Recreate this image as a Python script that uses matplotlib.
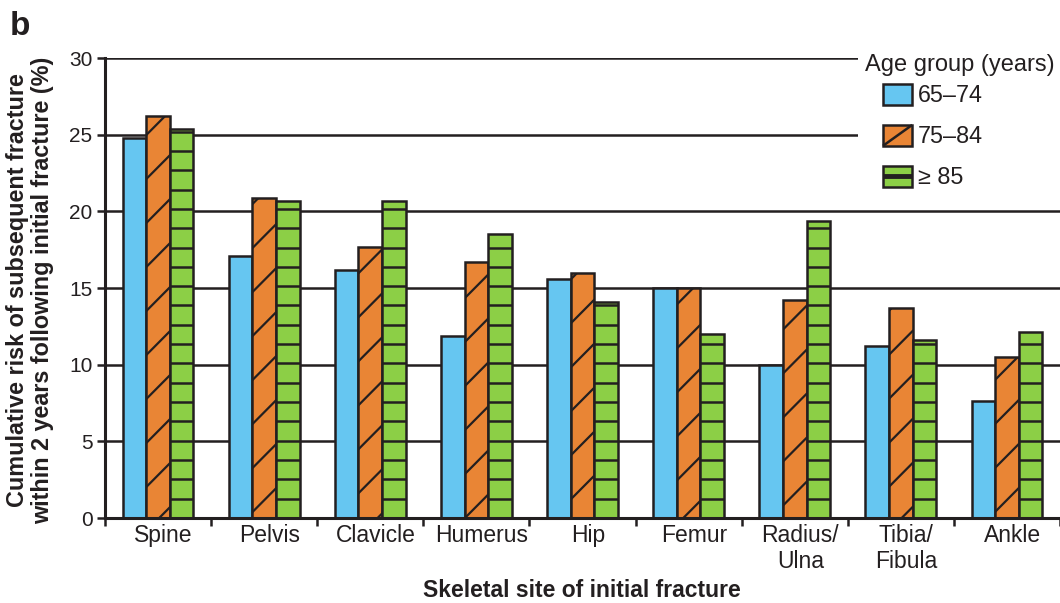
import matplotlib
matplotlib.use('Agg')

import matplotlib.pyplot as plt
from matplotlib.patches import Patch, Rectangle
from matplotlib.lines import Line2D
from matplotlib.legend_handler import HandlerBase
from matplotlib.transforms import ScaledTranslation
import numpy as np

# cumulative risk (%) of a subsequent fracture within 2 years, by site and age group
sites = ["Spine", "Pelvis", "Clavicle", "Humerus", "Hip", "Femur",
         "Radius/\nUlna", "Tibia/\nFibula", "Ankle"]
age_groups = ["65\u201374", "75\u201384", "\u2265 85"]
risk_65_74 = [24.8, 17.1, 16.2, 11.9, 15.6, 15.0, 10.0, 11.2, 7.6]
risk_75_84 = [26.2, 20.9, 17.7, 16.7, 16.0, 15.0, 14.2, 13.7, 10.5]
risk_85_up = [25.4, 20.7, 20.7, 18.5, 14.1, 12.0, 19.4, 11.6, 12.1]
y_ticks = [0, 5, 10, 15, 20, 25, 30]

c_blue = "#66c6f1"
c_orange = "#e98535"
c_green = "#8ccf46"
c_ink = "#231f20"

plt.rcParams['font.family'] = ['Liberation Sans', 'DejaVu Sans']

W, H = 1060, 603
fig = plt.figure(figsize=(W / 100, H / 100), dpi=100)
ax = fig.add_axes([105 / W, 1 - 518 / H, (W - 105) / W, (518 - 58) / H])

group_w = 106.9
ax.set_xlim(0, (W - 105) / group_w)
ax.set_ylim(0, 30)

x = np.arange(len(sites)) + 0.5
bw = 0.222
edge_lw = 1.8

for yv in y_ticks[1:]:
    ax.axhline(yv, color=c_ink, lw=1.8, zorder=1)

b1 = ax.bar(x - bw, risk_65_74, bw, color=c_blue, edgecolor=c_ink, lw=edge_lw, zorder=2)
b2 = ax.bar(x, risk_75_84, bw, color=c_orange, edgecolor=c_ink, lw=edge_lw, zorder=2)
b3 = ax.bar(x + bw, risk_85_up, bw, color=c_green, edgecolor=c_ink, lw=edge_lw, zorder=2)

# sparse 45-degree rules inside the 75-84 bars (spacing in pixels)
p0 = ax.transData.transform((0, 0))
p1 = ax.transData.transform((1, 1))
sx, sy = p1 - p0
step, phase = 44.0, 10.6
for rect in b2:
    x0 = rect.get_x()
    x1 = x0 + rect.get_width()
    h = rect.get_height()
    cmin, cmax = sx * x0 - sy * h, sx * x1
    k0 = int(np.floor((cmin - phase) / step))
    k1 = int(np.ceil((cmax - phase) / step))
    for k in range(k0, k1 + 1):
        c = phase + k * step
        xs = np.array([x0, x1])
        ys = (sx * xs - c) / sy
        ln = Line2D(xs, ys, color=c_ink, lw=1.6, zorder=3)
        ax.add_line(ln)
        ln.set_clip_path(rect)

# horizontal rules inside the >=85 bars
rule = 1.26
for rect in b3:
    x0 = rect.get_x()
    x1 = x0 + rect.get_width()
    h = rect.get_height()
    ys = np.arange(rule, h - 0.05, rule)
    ax.hlines(ys, x0, x1, color=c_ink, lw=1.8, zorder=3)

ax.set_yticks(y_ticks)
ax.set_xticks(x)
ax.set_xticklabels(sites, fontsize=16.5, color=c_ink, linespacing=1.2)
ax.set_xticks(np.arange(len(sites) + 1), minor=True)
ax.tick_params(axis='x', which='major', length=0, pad=4)
ax.tick_params(axis='x', which='minor', length=6, width=1.8, color=c_ink)
ax.tick_params(axis='y', length=6, width=1.8, color=c_ink, labelsize=15,
               labelcolor=c_ink, pad=3)
shift = ScaledTranslation(4 / 72, 0, fig.dpi_scale_trans)
for lab in ax.get_xticklabels():
    lab.set_transform(lab.get_transform() + shift)

for s in ['top', 'right']:
    ax.spines[s].set_visible(False)
for s in ['left', 'bottom']:
    ax.spines[s].set_linewidth(2.2)
    ax.spines[s].set_color(c_ink)

fig.text(582 / W, 1 - 602 / H, "Skeletal site of initial fracture", fontsize=16.5,
         fontweight='bold', color=c_ink, ha='center', va='bottom')
fig.text(30 / W, 1 - 290 / H,
         "Cumulative risk of subsequent fracture\nwithin 2 years following initial fracture (%)",
         fontsize=16.8, fontweight='bold', color=c_ink, rotation=90,
         ha='center', va='center', multialignment='center', linespacing=1.15)

fig.text(10 / W, 1 - 35 / H, "b", fontsize=24, fontweight='bold', color=c_ink)


class Swatch(HandlerBase):
    def __init__(self, kind):
        super().__init__()
        self.kind = kind

    def create_artists(self, legend, orig_handle, xdescent, ydescent, width, height,
                       fontsize, trans):
        x0, y0 = -xdescent, -ydescent
        arts = [Rectangle((x0, y0), width, height, facecolor=orig_handle.get_facecolor(),
                          edgecolor=c_ink, lw=1.8, transform=trans)]
        if self.kind == 'diag':
            arts.append(Line2D([x0, x0 + width], [y0, y0 + height], color=c_ink,
                               lw=1.8, solid_capstyle='butt', transform=trans))
        elif self.kind == 'flat':
            arts.append(Line2D([x0, x0 + width], [y0 + height / 2] * 2, color=c_ink,
                               lw=3.5, solid_capstyle='butt', transform=trans))
        return arts


# white box behind the legend
fig.patches.append(Rectangle((858 / W, 1 - 198 / H), (W - 858) / W, 155 / H,
                             transform=fig.transFigure, facecolor='white',
                             edgecolor='none', zorder=1))
fig.text(865 / W, 1 - 65 / H, "Age group (years)", fontsize=17, color=c_ink,
         va='center', zorder=3)

h1 = Patch(facecolor=c_blue)
h2 = Patch(facecolor=c_orange)
h3 = Patch(facecolor=c_green)
fig.legend([h1, h2, h3], age_groups, loc='upper left',
           bbox_to_anchor=(883 / W, 1 - 84 / H), frameon=False, fontsize=16.8,
           handlelength=1.25, handleheight=1.0, handletextpad=0.25,
           labelspacing=0.75, borderpad=0, borderaxespad=0,
           labelcolor=c_ink,
           handler_map={h1: Swatch('plain'), h2: Swatch('diag'), h3: Swatch('flat')})

fig.savefig("out.png", dpi=100)
